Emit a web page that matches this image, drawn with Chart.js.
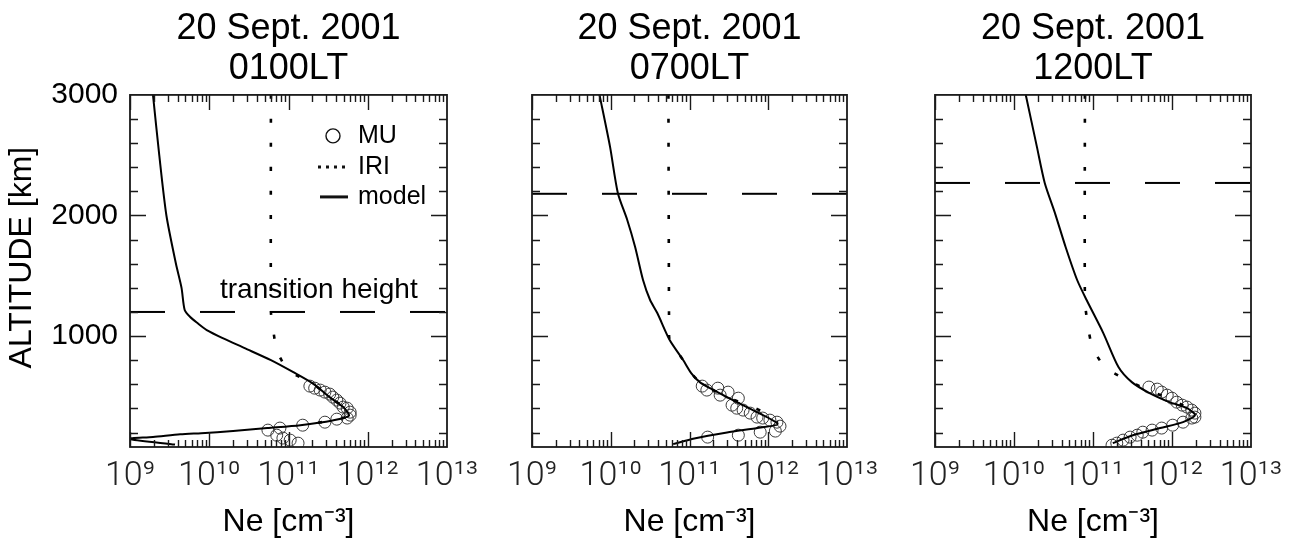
<!DOCTYPE html>
<html><head><meta charset="utf-8">
<script src="https://cdn.jsdelivr.net/npm/chart.js@4.4.1/dist/chart.umd.min.js"></script>
<style>
html,body{margin:0;padding:0;background:#fff;}
#wrap{position:relative;width:1302px;height:540px;overflow:hidden;background:#fff;}
canvas{position:absolute;left:0;top:0;}
</style></head><body>
<div id="wrap">
<canvas id="c1" width="1302" height="540"></canvas>
<canvas id="c2" width="1302" height="540"></canvas>
<canvas id="c3" width="1302" height="540"></canvas>
</div>
<script>
// ---------- axes ----------
const xMin = 1e9, xMax = 1e13;
const yMin = 80, yMax = 3000;
const xTickValues = [1e9, 1e10, 1e11, 1e12, 1e13];
const xTickLabels = ['10\u2079', '10\u00B9\u2070', '10\u00B9\u00B9', '10\u00B9\u00B2', '10\u00B9\u00B3'];
const yTickValues = [1000, 2000, 3000];
const yTickLabels = ['1000', '2000', '3000'];
const yMinorStep = 200;
const titleDate = '20 Sept. 2001';
const panelTimes = ['0100LT', '0700LT', '1200LT'];
const transitionHeights = [1200, 2180, 2270];

// ---------- 0100LT ----------
const p1ModelAlt = [3000, 2500, 2000, 1600, 1400, 1216, 1158, 1108, 1050, 983, 900, 800, 700, 600, 500, 411, 340, 300, 261, 237, 212, 195, 185, 163, 148, 100];
const p1ModelNe  = [1.95e9, 2.34e9, 2.88e9, 3.8e9, 4.47e9, 4.9e9, 5.75e9, 7.1e9, 9.3e9, 1.48e10, 2.8e10, 6.0e10, 1.15e11, 2.1e11, 3.2e11, 4.9e11, 5.8e11, 3.6e11, 1.41e11, 5.4e10, 2.0e10, 7.9e9, 4.3e9, 1.95e9, 9.5e8, 3.7e9];
const p1IriAlt = [3000, 1200, 1090, 884, 718, 640, 600, 500, 411, 340, 300, 261];
const p1IriNe  = [6.0e10, 6.0e10, 6.3e10, 7.1e10, 9.8e10, 1.6e11, 2.1e11, 3.2e11, 4.9e11, 5.8e11, 3.6e11, 1.41e11];
const p1MuAlt = [585, 568, 552, 535, 519, 494, 469, 444, 411, 402, 369, 344, 320, 311, 286, 261, 237, 220, 178, 154, 137, 112];
const p1MuNe  = [1.86e11, 2.14e11, 2.51e11, 2.88e11, 3.31e11, 3.63e11, 4.07e11, 4.47e11, 4.9e11, 5.5e11, 6.0e11, 6.0e11, 5.5e11, 4.07e11, 2.88e11, 1.51e11, 7.8e10, 5.5e10, 7.1e10, 8.5e10, 1.05e11, 1.32e11];

// ---------- 0700LT ----------
const p2ModelAlt = [3000, 2569, 2187, 1963, 1739, 1465, 1299, 1191, 967, 801, 693, 618, 568, 469, 369, 270, 240, 200, 150, 104];
const p2ModelNe  = [7.2e9, 9.8e9, 1.23e10, 1.62e10, 2.04e10, 2.57e10, 3.16e10, 3.9e10, 5.6e10, 8.3e10, 1.05e11, 1.35e11, 1.82e11, 3.55e11, 7.2e11, 1.32e12, 7.6e11, 3.0e11, 1.15e11, 6.2e10];
const p2IriAlt = [3000, 1075, 967, 801, 693, 618, 568, 500, 427, 344, 280];
const p2IriNe  = [5.4e10, 5.5e10, 5.6e10, 8.3e10, 1.05e11, 1.35e11, 1.82e11, 2.8e11, 5.5e11, 1.05e12, 1.32e12];
const p2MuAlt = [585, 552, 568, 535, 510, 485, 427, 402, 386, 361, 328, 320, 303, 286, 253, 212, 203, 178, 162];
const p2MuNe  = [1.45e11, 1.66e11, 2.29e11, 3.09e11, 2.45e11, 4.17e11, 3.47e11, 3.98e11, 4.79e11, 5.9e11, 7.2e11, 8.5e11, 1.05e12, 1.29e12, 1.41e12, 1.23e12, 7.9e11, 4.17e11, 1.7e11];

// ---------- 1200LT ----------
const p3ModelAlt = [3000, 2569, 2270, 2020, 1739, 1465, 1299, 1025, 743, 618, 527, 452, 402, 344, 286, 237, 178, 112];
const p3ModelNe  = [1.41e10, 1.95e10, 2.45e10, 3.3e10, 4.5e10, 6.3e10, 8.3e10, 1.35e11, 2.1e11, 3.1e11, 5.2e11, 9.3e11, 1.55e12, 1.95e12, 1.38e12, 7.1e11, 3.2e11, 1.78e11];
const p3IriAlt = [3000, 1300, 1108, 909, 743, 635, 552, 470, 400, 344];
const p3IriNe  = [7.9e10, 7.9e10, 8.5e10, 9.8e10, 1.41e11, 2.7e11, 5.0e11, 1.0e12, 1.6e12, 1.95e12];
const p3MuAlt = [577, 560, 535, 510, 485, 452, 427, 411, 386, 361, 328, 320, 286, 261, 237, 220, 203, 178, 162, 137, 112, 95];
const p3MuNe  = [5.1e11, 6.5e11, 7.4e11, 8.7e11, 1.0e12, 1.15e12, 1.35e12, 1.55e12, 1.78e12, 1.95e12, 1.95e12, 1.78e12, 1.38e12, 1.02e12, 7.4e11, 5.6e11, 4.27e11, 3.63e11, 2.95e11, 2.4e11, 2.0e11, 1.74e11];

const legendLabels = ['MU', 'IRI', 'model'];
const transitionLabel = 'transition height';

const SANS = '"Liberation Sans", Arial, Helvetica, sans-serif';
const pts = (ne, alt) => ne.map((v, i) => ({x: v, y: alt[i]}));

// frame + inward tick marks on all four sides
const frameTicks = {
  id: 'frameTicks',
  afterDatasetsDraw(chart) {
    const {ctx, chartArea: a} = chart;
    const xs = chart.scales.x, ys = chart.scales.y;
    ctx.save();
    ctx.strokeStyle = '#1a1a1a';
    ctx.lineWidth = 1.4;
    ctx.beginPath();
    const d0 = Math.round(Math.log10(xMin)), d1 = Math.round(Math.log10(xMax));
    for (let e = d0; e < d1; e++) {
      for (let k = 1; k <= 9; k++) {
        const px = Math.round(xs.getPixelForValue(k * Math.pow(10, e))) + 0.5;
        const len = k === 1 ? 15 : 7;
        ctx.moveTo(px, a.bottom); ctx.lineTo(px, a.bottom - len);
        ctx.moveTo(px, a.top); ctx.lineTo(px, a.top + len);
      }
    }
    for (let v = yMinorStep; v < yMax; v += yMinorStep) {
      const py = Math.round(ys.getPixelForValue(v)) + 0.5;
      const len = v % 1000 === 0 ? 16 : 8;
      ctx.moveTo(a.left, py); ctx.lineTo(a.left + len, py);
      ctx.moveTo(a.right, py); ctx.lineTo(a.right - len, py);
    }
    ctx.stroke();
    ctx.lineWidth = 1.8;
    ctx.strokeRect(a.left, a.top, a.right - a.left, a.bottom - a.top);
    ctx.restore();
  }
};

// legend and transition label (first panel)
const notes = {
  id: 'notes',
  afterDraw(chart) {
    const {ctx, chartArea: a} = chart;
    const ys = chart.scales.y;
    ctx.save();
    ctx.fillStyle = '#000';
    ctx.strokeStyle = '#111';
    ctx.textBaseline = 'middle';
    ctx.textAlign = 'left';
    ctx.font = '25px ' + SANS;
    const sx = a.right - 114, tx = a.right - 89;
    const rows = [a.top + 41, a.top + 72, a.top + 102];
    ctx.lineWidth = 1.4;
    ctx.beginPath(); ctx.arc(sx, rows[0], 7, 0, Math.PI * 2); ctx.stroke();
    ctx.lineWidth = 3; ctx.setLineDash([3, 5]);
    ctx.beginPath(); ctx.moveTo(sx - 15, rows[1]); ctx.lineTo(sx + 15, rows[1]); ctx.stroke();
    ctx.setLineDash([]); ctx.lineWidth = 3;
    ctx.beginPath(); ctx.moveTo(sx - 13, rows[2]); ctx.lineTo(sx + 15, rows[2]); ctx.stroke();
    legendLabels.forEach((t, i) => ctx.fillText(t, tx, rows[i]));
    ctx.font = '28px ' + SANS;
    ctx.textBaseline = 'alphabetic';
    ctx.fillText(transitionLabel, a.left + 90, ys.getPixelForValue(transitionHeights[0]) - 14);
    ctx.restore();
  }
};

function makePanel(id, idx, model, iri, mu, padLeft, padRight, showY) {
  const plugins = [frameTicks];
  if (idx === 0) plugins.push(notes);
  return new Chart(document.getElementById(id), {
    type: 'line',
    data: {
      datasets: [
        {label: 'model', data: model, borderColor: '#000', borderWidth: 2, pointRadius: 0, tension: 0.25, fill: false, order: 0},
        {label: 'IRI', data: iri, borderColor: '#000', borderWidth: 2.6, borderDash: [4, 20], pointRadius: 0, tension: 0.2, fill: false, order: 1},
        {label: 'MU', data: mu, showLine: false, pointStyle: 'circle', pointRadius: 6, borderWidth: 1, pointBorderColor: '#3a3a3a', pointBackgroundColor: 'rgba(0,0,0,0)', order: 2},
        {label: 'transition height', data: [{x: xMin, y: transitionHeights[idx]}, {x: xMax, y: transitionHeights[idx]}], borderColor: '#000', borderWidth: 2, borderDash: [35, 35], pointRadius: 0, fill: false, order: 3}
      ]
    },
    options: {
      responsive: false, animation: false, devicePixelRatio: 1,
      layout: {padding: {left: padLeft, right: padRight, top: 0, bottom: 0}},
      plugins: {
        legend: {display: false}, tooltip: {enabled: false},
        title: {display: true, fullSize: false, text: [titleDate, panelTimes[idx]], color: '#000',
                font: {family: SANS, size: 36, weight: 'normal', lineHeight: 1.11}, padding: {top: 9, bottom: 6}}
      },
      scales: {
        x: {
          type: 'logarithmic', min: xMin, max: xMax, position: 'bottom',
          grid: {display: false, drawTicks: false}, border: {display: false},
          afterBuildTicks: s => { s.ticks = xTickValues.map(v => ({value: v})); },
          afterFit: s => { s.height = 93; },
          ticks: {autoSkip: false, maxRotation: 0, padding: 9, color: '#222',
                  font: {family: 'Roboto, ' + SANS, size: 34, weight: '300', lineHeight: 1.2},
                  callback: v => xTickLabels[xTickValues.indexOf(v)]},
          title: {display: true, text: 'Ne [cm\u207B\u00B3]', color: '#000', padding: {top: 0, bottom: 2},
                  font: {family: SANS, size: 32, lineHeight: 1.0}}
        },
        y: {
          type: 'linear', min: yMin, max: yMax,
          grid: {display: false, drawTicks: false}, border: {display: false},
          afterBuildTicks: s => { s.ticks = yTickValues.map(v => ({value: v})); },
          afterFit: s => { s.width = showY ? 130 : 0; },
          ticks: {display: showY, padding: 12, color: '#000', font: {family: SANS, size: 30},
                  callback: v => yTickLabels[yTickValues.indexOf(v)]},
          title: {display: showY, text: '   ALTITUDE [km]', color: '#000', padding: {top: 3, bottom: 0},
                  font: {family: SANS, size: 32, lineHeight: 1.2}}
        }
      }
    },
    plugins
  });
}

makePanel('c1', 0, pts(p1ModelNe, p1ModelAlt), pts(p1IriNe, p1IriAlt), pts(p1MuNe, p1MuAlt), 0, 1302 - 447, true);
makePanel('c2', 1, pts(p2ModelNe, p2ModelAlt), pts(p2IriNe, p2IriAlt), pts(p2MuNe, p2MuAlt), 532, 1302 - 847, false);
makePanel('c3', 2, pts(p3ModelNe, p3ModelAlt), pts(p3IriNe, p3IriAlt), pts(p3MuNe, p3MuAlt), 935, 1302 - 1251, false);
</script>
</body></html>
